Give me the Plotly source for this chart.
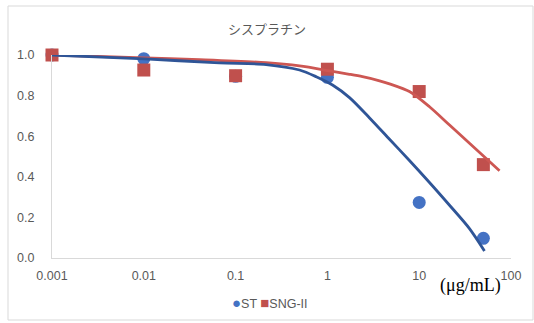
import plotly.graph_objects as go

# Concentrations (µg/mL) and relative viability
conc = [0.001, 0.01, 0.1, 1, 10, 50]
st_vals = [1.0, 0.982, 0.895, 0.89, 0.274, 0.097]
sng_vals = [1.0, 0.926, 0.898, 0.93, 0.82, 0.46]

# Fitted curves
st_fit_x = [0.001, 0.0102, 0.0668, 0.215, 0.497, 0.755, 1.137, 1.741, 2.88, 4.75, 7.83, 12.94, 21.4, 35.3, 51.4]
st_fit_y = [1.0, 0.981, 0.961, 0.953, 0.926, 0.893, 0.852, 0.79, 0.69, 0.585, 0.48, 0.372, 0.26, 0.145, 0.035]
sng_fit_x = [0.001, 0.0102, 0.0405, 0.215, 0.497, 1.054, 1.741, 2.41, 3.70, 4.75, 7.83, 12.94, 21.4, 35.3, 75.0]
sng_fit_y = [1.0, 0.986, 0.977, 0.962, 0.946, 0.922, 0.905, 0.893, 0.873, 0.858, 0.82, 0.745, 0.655, 0.565, 0.43]

x_ticks = [0.001, 0.01, 0.1, 1, 10, 100]
x_tick_text = ["0.001", "0.01", "0.1", "1", "10", "100"]
y_ticks = [0.0, 0.2, 0.4, 0.6, 0.8, 1.0]

BLUE_MK = "#4472C4"
BLUE_LN = "#2F5597"
RED_MK = "#C0504D"
RED_LN = "#CD5753"
GRAY = "#595959"
AXIS = "#D9D9D9"

fig = go.Figure()
fig.add_trace(go.Scatter(x=conc, y=st_vals, mode="markers", name="ST", cliponaxis=False,
                         marker=dict(symbol="circle", size=13, color=BLUE_MK)))
fig.add_trace(go.Scatter(x=conc, y=sng_vals, mode="markers", name="SNG-II", cliponaxis=False,
                         marker=dict(symbol="square", size=13, color=RED_MK)))
fig.add_trace(go.Scatter(x=sng_fit_x, y=sng_fit_y, mode="lines", showlegend=False, cliponaxis=False,
                         line=dict(color=RED_LN, width=2.8, shape="spline", smoothing=0.8)))
fig.add_trace(go.Scatter(x=st_fit_x, y=st_fit_y, mode="lines", showlegend=False, cliponaxis=False,
                         line=dict(color=BLUE_LN, width=2.8, shape="spline", smoothing=0.8)))

# plot area spans x 52..511, y 55..258
X0, X1, Y0, Y1 = 52, 511, 55, 258
L, R, T, B = X0, 534 - X1, Y0, 323 - Y1
pw, ph = X1 - X0, Y1 - Y0

def px_x(p):
    return (p - X0) / pw

def px_y(p):
    return (Y1 - p) / ph

fig.update_layout(
    width=534, height=323,
    margin=dict(l=L, r=R, t=T, b=B),
    paper_bgcolor="white", plot_bgcolor="white",
    showlegend=False,
    font=dict(family="Liberation Sans, Arial, sans-serif", size=12.5, color=GRAY),
    xaxis=dict(type="log", range=[-3, 2], tickvals=x_ticks, ticktext=x_tick_text,
               showgrid=False, zeroline=False, showline=True, linecolor=AXIS, linewidth=1,
               ticks="", ticklabelstandoff=6, tickfont=dict(size=12.5, color=GRAY)),
    yaxis=dict(range=[0, 1.0], tickvals=y_ticks, tickformat=".1f",
               showgrid=False, zeroline=False, showline=True, linecolor=AXIS, linewidth=1,
               ticks="", ticklabelstandoff=14, tickfont=dict(size=12.5, color=GRAY)),
    shapes=[dict(type="rect", xref="paper", yref="paper",
                 x0=px_x(8), x1=px_x(533), y0=px_y(320), y1=px_y(6),
                 line=dict(color=AXIS, width=1), layer="below")],
    annotations=[
        dict(text="シスプラチン", xref="paper", yref="paper", x=px_x(267), y=px_y(28),
             showarrow=False, xanchor="center", yanchor="middle",
             font=dict(family="Noto Sans CJK JP", size=13, color=GRAY)),
        dict(text=f"<span style='color:{BLUE_MK};font-size:15px'>●</span>ST "
                  f"<span style='color:{RED_MK};font-size:15px'>■</span>SNG-II",
             xref="paper", yref="paper", x=px_x(270), y=px_y(302),
             showarrow=False, xanchor="center", yanchor="middle",
             font=dict(family="Liberation Sans, Arial, sans-serif", size=12.5, color=GRAY)),
        dict(text="(μg/mL)", xref="paper", yref="paper", x=px_x(470), y=px_y(285),
             showarrow=False, xanchor="center", yanchor="middle",
             font=dict(family="Liberation Serif, Times New Roman, serif", size=18, color="black")),
    ],
)

fig.write_html("out.html")
